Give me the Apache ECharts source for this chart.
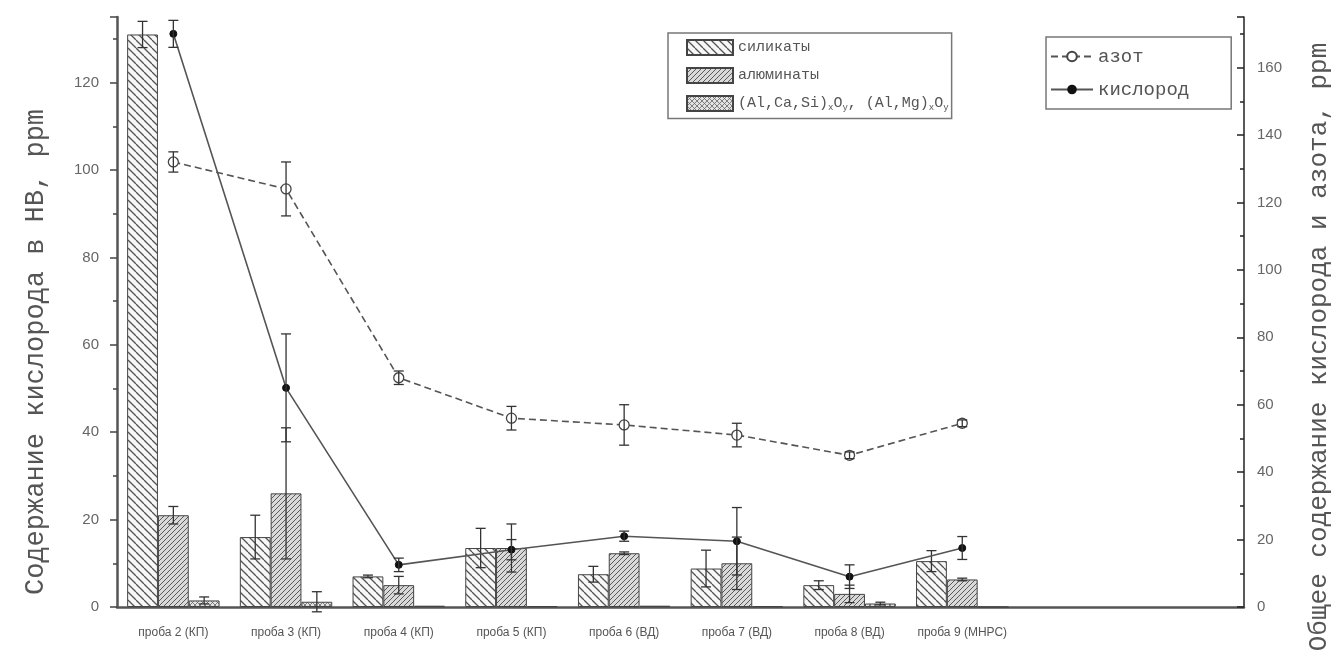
<!DOCTYPE html>
<html>
<head>
<meta charset="utf-8">
<script src="https://cdn.jsdelivr.net/npm/echarts@6/dist/echarts.min.js"></script>
<style>
  html, body { margin: 0; padding: 0; background: #fff; }
  #chart { width: 1340px; height: 666px; }
</style>
</head>
<body>
<div id="chart"></div>
<script>
// данные
var categories = ['проба 2 (КП)', 'проба 3 (КП)', 'проба 4 (КП)', 'проба 5 (КП)', 'проба 6 (ВД)', 'проба 7 (ВД)', 'проба 8 (ВД)', 'проба 9 (МНРС)', '', ''];
var silicates = [131, 16, 7, 13.5, 7.5, 8.8, 5, 10.5];
var silicatesErr = [3, 5, 0.3, 4.5, 1.8, 4.2, 1, 2.4];
var aluminates = [21, 26, 5, 13.5, 12.3, 10, 3, 6.3];
var aluminatesErr = [2, 15, 2, 5.5, 0.3, 6, 2, 0.3];
var complexOxides = [1.5, 1.2, 0.3, 0.2, 0.3, 0.2, 0.8, 0];
var complexOxidesErr = [0.8, 2.3, 0, 0, 0, 0, 0.3, 0];
var nitrogen = [132, 124, 68, 56, 54, 51, 45, 54.5];
var nitrogenErr = [3, 8, 2, 3.5, 6, 3.5, 1, 1];
var oxygen = [170, 65, 12.5, 17, 21, 19.5, 9, 17.5];
var oxygenErr = [4, 16, 2, 3, 1.5, 10, 3.5, 3.4];

var complexName = '(Al,Ca,Si)xOy, (Al,Mg)xOy';
var catGap = 0.18;

// штриховки для столбцов
function hatch(bg, fg, step, dirs, lw) {
  var c = document.createElement('canvas');
  c.width = c.height = step;
  var g = c.getContext('2d');
  g.fillStyle = bg;
  g.fillRect(0, 0, step, step);
  g.strokeStyle = fg;
  g.lineWidth = lw;
  dirs.forEach(function (d) {
    [-step, 0, step].forEach(function (o) {
      g.beginPath();
      if (d === '\\') { g.moveTo(o, 0); g.lineTo(o + step, step); }
      else { g.moveTo(o, step); g.lineTo(o + step, 0); }
      g.stroke();
    });
  });
  return { image: c, repeat: 'repeat' };
}

var patSil = hatch('#f7f7f7', '#555', 8, ['\\'], 1.3);
var patAl = hatch('#d9d9d9', '#5a5a5a', 5, ['/'], 1);
var patCx = hatch('#e2e2e2', '#666', 5, ['/', '\\'], 0.8);

function errItem(params, api) {
  var c = api.value(0), k = api.value(1);
  var band = api.size([1, 0])[0];
  var bw = band * (1 - catGap) / 3;
  var x = api.coord([c, 0])[0] + (k - 1) * bw;
  var y1 = api.coord([c, api.value(2)])[1];
  var y2 = api.coord([c, api.value(3)])[1];
  var h = 5;
  var st = { stroke: '#333', lineWidth: 1.3 };
  return {
    type: 'group',
    children: [
      { type: 'line', shape: { x1: x, y1: y1, x2: x, y2: y2 }, style: st },
      { type: 'line', shape: { x1: x - h, y1: y1, x2: x + h, y2: y1 }, style: st },
      { type: 'line', shape: { x1: x - h, y1: y2, x2: x + h, y2: y2 }, style: st }
    ]
  };
}

var barErrData = [];
[[silicates, silicatesErr], [aluminates, aluminatesErr], [complexOxides, complexOxidesErr]].forEach(function (p, k) {
  p[0].forEach(function (v, i) {
    if (p[1][i] > 0) barErrData.push([i, k, v - p[1][i], v + p[1][i]]);
  });
});
var lineErrData = [];
[[nitrogen, nitrogenErr], [oxygen, oxygenErr]].forEach(function (p) {
  p[0].forEach(function (v, i) {
    if (p[1][i] > 0) lineErrData.push([i, 1, v - p[1][i], v + p[1][i]]);
  });
});

var chart = echarts.init(document.getElementById('chart'));
var axisColor = '#555';
var labelStyle = { fontFamily: 'Liberation Sans', fontSize: 15, color: '#666' };

chart.setOption({
  backgroundColor: '#fff',
  animation: false,
  grid: { left: 117, right: 95, top: 17, bottom: 59 },
  legend: [
    {
      data: ['силикаты', 'алюминаты', complexName],
      orient: 'vertical', left: 668, top: 33, icon: 'rect',
      borderColor: '#777', borderWidth: 1.5, padding: [6, 3, 6, 18],
      itemWidth: 46, itemHeight: 15, itemGap: 11,
      formatter: function (n) {
        return n === complexName ? '(Al,Ca,Si){s|x}O{s|y}, (Al,Mg){s|x}O{s|y}' : n;
      },
      textStyle: {
        fontFamily: 'Liberation Mono', fontSize: 15, color: '#555',
        rich: { s: { fontFamily: 'Liberation Mono', fontSize: 9, color: '#555', padding: [9, 0, 0, 0] } }
      }
    },
    {
      data: ['азот', 'кислород'],
      orient: 'vertical', left: 1046, top: 37,
      borderColor: '#777', borderWidth: 1.5, padding: [10, 42, 10, 4],
      itemWidth: 42, itemHeight: 12, itemGap: 14,
      textStyle: { fontFamily: 'Liberation Mono', fontSize: 19, color: '#555' }
    }
  ],
  xAxis: [
    {
      type: 'category', data: categories,
      axisLine: { lineStyle: { color: axisColor, width: 2.5 } },
      axisTick: { alignWithLabel: true, length: 7, lineStyle: { color: '#444', width: 1.5 } },
      axisLabel: { interval: 0, margin: 20, fontFamily: 'Liberation Sans', fontSize: 12, color: '#555' }
    },
    {
      type: 'category', data: categories, position: 'bottom',
      axisLine: { show: false },
      axisTick: { length: 5, lineStyle: { color: '#444', width: 1.5 } },
      axisLabel: { show: false }
    }
  ],
  yAxis: [
    {
      type: 'value', min: 0, max: 135, interval: 20,
      name: 'Содержание кислорода в НВ, ppm', nameLocation: 'middle', nameGap: 68, nameRotate: 90,
      nameTextStyle: { fontFamily: 'Liberation Mono', fontSize: 27, color: '#555', padding: [0, 80, 0, 0] },
      axisLine: { show: true, lineStyle: { color: axisColor, width: 2.5 } },
      axisTick: { show: true, length: 7, lineStyle: { color: '#444', width: 1.5 } },
      minorTick: { show: true, splitNumber: 2, length: 4, lineStyle: { color: '#444', width: 1.5 } },
      axisLabel: Object.assign({ margin: 18, showMaxLabel: false }, labelStyle),
      splitLine: { show: false }
    },
    {
      type: 'value', min: 0, max: 175, interval: 20, position: 'right',
      name: 'Общее содержание кислорода и азота, ppm', nameLocation: 'middle', nameGap: 62, nameRotate: 90,
      nameTextStyle: { fontFamily: 'Liberation Mono', fontSize: 26, color: '#555', padding: [0, 70, 0, 0] },
      axisLine: { show: true, lineStyle: { color: '#222', width: 1.5 } },
      axisTick: { show: true, inside: true, length: 7, lineStyle: { color: '#222', width: 1.5 } },
      minorTick: { show: true, splitNumber: 2, length: 4, lineStyle: { color: '#222', width: 1.5 } },
      axisLabel: Object.assign({ margin: 13, showMaxLabel: false }, labelStyle),
      splitLine: { show: false }
    }
  ],
  series: [
    {
      name: 'силикаты', type: 'bar', data: silicates, barGap: '0%', barCategoryGap: '18%',
      itemStyle: { color: patSil, borderColor: '#444', borderWidth: 1 }
    },
    {
      name: 'алюминаты', type: 'bar', data: aluminates, barGap: '0%', barCategoryGap: '18%',
      itemStyle: { color: patAl, borderColor: '#444', borderWidth: 1 }
    },
    {
      name: complexName, type: 'bar', data: complexOxides, barGap: '0%', barCategoryGap: '18%',
      itemStyle: { color: patCx, borderColor: '#444', borderWidth: 1 }
    },
    {
      type: 'custom', yAxisIndex: 0, renderItem: errItem, data: barErrData,
      encode: { x: 0, y: [2, 3] }, z: 5, silent: true
    },
    {
      name: 'азот', type: 'line', yAxisIndex: 1, data: nitrogen, z: 6,
      symbol: 'circle', symbolSize: 10,
      lineStyle: { color: '#555', width: 1.6, type: [7, 4] },
      itemStyle: { color: '#fff', borderColor: '#444', borderWidth: 1.3 }
    },
    {
      name: 'кислород', type: 'line', yAxisIndex: 1, data: oxygen, z: 6,
      symbol: 'circle', symbolSize: 7,
      lineStyle: { color: '#555', width: 1.6 },
      itemStyle: { color: '#111', borderColor: '#111' }
    },
    {
      type: 'custom', yAxisIndex: 1, renderItem: errItem, data: lineErrData,
      encode: { x: 0, y: [2, 3] }, z: 7, silent: true
    }
  ]
});
</script>
</body>
</html>
